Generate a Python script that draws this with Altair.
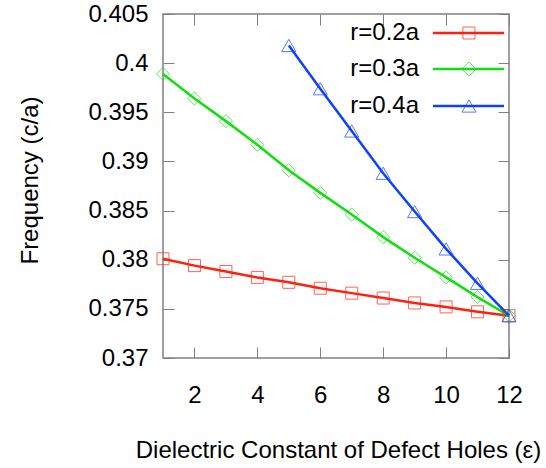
import altair as alt
import pandas as pd

series = ["r=0.2a", "r=0.3a", "r=0.4a"]
colors = ["#ff2010", "#10e010", "#1040ff"]
shapes = ["square", "diamond", "triangle-up"]
sizes = [144, 200, 200]

eps_02 = [1, 2, 3, 4, 5, 6, 7, 8, 9, 10, 11, 12]
f_02 = [0.3801, 0.3794, 0.3788, 0.3782, 0.3777, 0.3771, 0.3766, 0.3761, 0.3756, 0.3752, 0.3747, 0.3743]
eps_03 = [1, 2, 3, 4, 5, 6, 7, 8, 9, 10, 11, 12]
f_03 = [0.3989, 0.3964, 0.3941, 0.3917, 0.3891, 0.3868, 0.3846, 0.3823, 0.3802, 0.3782, 0.3762, 0.3743]
eps_04 = [5, 6, 7, 8, 9, 10, 11, 12]
f_04 = [0.4018, 0.3974, 0.3931, 0.3888, 0.3849, 0.3811, 0.3776, 0.3743]

x_ticks = [2, 4, 6, 8, 10, 12]
y_ticks = [0.37, 0.375, 0.38, 0.385, 0.39, 0.395, 0.4, 0.405]

rows = []
for name, xs, ys in zip(series, [eps_02, eps_03, eps_04], [f_02, f_03, f_04]):
    for a, b in zip(xs, ys):
        rows.append({"eps": a, "freq": b, "series": name})
df = pd.DataFrame(rows)

FONT = "Liberation Sans"
GRAY = "#808080"

xscale = alt.Scale(domain=[1, 12], nice=False, zero=False)
yscale = alt.Scale(domain=[0.37, 0.405], nice=False, zero=False)
cscale = alt.Scale(domain=series, range=colors)


def tick_axis(orient, values):
    return alt.Axis(orient=orient, values=values, labels=False, domain=False,
                    ticks=True, tickSize=11, offset=-11, tickColor=GRAY,
                    tickWidth=1, title=None, grid=False)


x_main = alt.Axis(orient="bottom", values=x_ticks, ticks=False, domain=False,
                  labelPadding=25, labelFlush=False, labelOverlap=False,
                  title="Dielectric Constant of Defect Holes (ε)",
                  titleX=175, titleY=99, titleBaseline="alphabetic", titleAlign="center")
y_main = alt.Axis(orient="left", values=y_ticks, ticks=False, domain=False,
                  labelPadding=15, labelFlush=False, labelOverlap=False, format=".3~f",
                  title="Frequency (c/a)", titleX=-126, titleY=166,
                  titleBaseline="alphabetic", titleAlign="center", titleAngle=-90)

lines = alt.Chart(df).mark_line(strokeWidth=2.5).encode(
    x=alt.X("eps:Q", scale=xscale, axis=x_main),
    y=alt.Y("freq:Q", scale=yscale, axis=y_main),
    color=alt.Color("series:N", scale=cscale, legend=None),
)

points = alt.Chart(df).mark_point(filled=False, strokeWidth=1, opacity=0.7).encode(
    x=alt.X("eps:Q", scale=xscale, axis=tick_axis("bottom", x_ticks)),
    y=alt.Y("freq:Q", scale=yscale, axis=tick_axis("left", y_ticks)),
    color=alt.Color("series:N", scale=cscale, legend=None),
    shape=alt.Shape("series:N", scale=alt.Scale(domain=series, range=shapes), legend=None),
    size=alt.Size("series:N", scale=alt.Scale(domain=series, range=sizes), legend=None),
)

ghost = alt.Chart(df).mark_line(opacity=0).encode(
    x=alt.X("eps:Q", scale=xscale, axis=tick_axis("top", x_ticks)),
    y=alt.Y("freq:Q", scale=yscale, axis=tick_axis("right", y_ticks)),
    detail="series:N",
)

legend_layers = []
legend_rows_y = [19, 55, 92]
for name, col, shp, sz, ly in zip(series, colors, shapes, sizes, legend_rows_y):
    legend_layers.append(
        alt.Chart().mark_rule(color=col, strokeWidth=2.5).encode(
            x=alt.value(270), x2=alt.value(341), y=alt.value(ly))
    )
    legend_layers.append(
        alt.Chart().mark_point(shape=shp, size=sz, color=col, filled=False,
                               strokeWidth=1, opacity=0.7).encode(
            x=alt.value(306), y=alt.value(ly))
    )
    legend_layers.append(
        alt.Chart().mark_text(align="right", baseline="middle", font=FONT,
                              fontSize=24, color="black").encode(
            x=alt.value(256), y=alt.value(ly), text=alt.value(name))
    )

chart = alt.layer(lines, points, ghost, *legend_layers).resolve_axis(
    x="independent", y="independent"
).properties(
    width=346, height=344,
    autosize=alt.AutoSizeParams(type="none"),
    padding={"left": 163, "top": 14, "right": 37, "bottom": 110},
    background="white",
).configure_view(
    stroke=GRAY, strokeWidth=1.5
).configure_axis(
    labelFont=FONT, labelFontSize=24, labelColor="black",
    titleFont=FONT, titleFontSize=24, titleFontWeight="normal", titleColor="black",
    grid=False,
)

chart.save("out.html", embed_options={"renderer": "svg", "actions": False})
